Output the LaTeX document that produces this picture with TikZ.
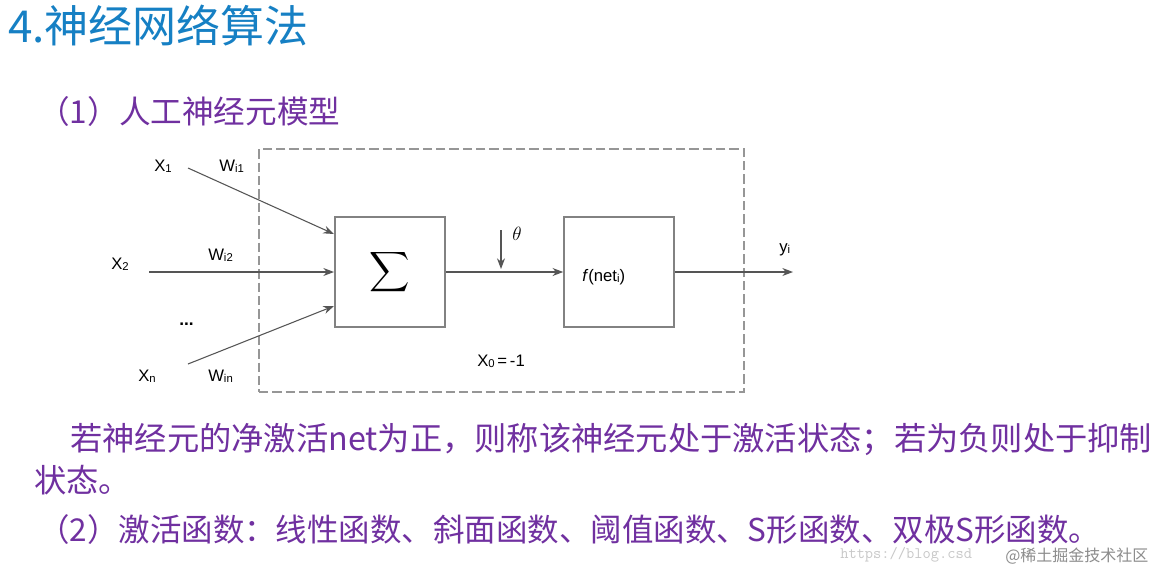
\documentclass[tikz,border=0pt]{standalone}
\usepackage{fontspec}
\setmainfont{Liberation Sans}
\newfontfamily\cjk{Noto Sans CJK SC}
\usetikzlibrary{arrows.meta}
\definecolor{titleblue}{RGB}{22,128,196}
\definecolor{txtpurple}{RGB}{112,48,160}
\definecolor{linegray}{RGB}{85,85,85}
\definecolor{boxgray}{RGB}{130,130,130}
\definecolor{dashgray}{RGB}{150,150,150}
\definecolor{wmgray}{RGB}{200,200,200}
\newcommand{\sbs}[1]{\raisebox{-1.2pt}{\fontsize{8.5}{9}\selectfont #1}}
\tikzset{
  lbl/.style={inner sep=0pt, font=\fontsize{12.5}{13}\selectfont, text=black},
  blk/.style={draw=boxgray, line width=1.2pt, minimum width=82.5pt, minimum height=82.5pt, inner sep=0pt, fill=white},
  conn/.style={draw=linegray, line width=0.8pt, -{Stealth[length=8pt,width=6pt]}},
  cjkline/.style={inner sep=0pt, anchor=base west, text=txtpurple},
}
\begin{document}
\begin{tikzpicture}[x=0.75pt,y=-0.75pt]
\useasboundingbox[fill=white] (0,0) rectangle (1171,568);
% title
\node[inner sep=0pt, anchor=base west, text=titleblue, font=\cjk\fontsize{33}{35}\selectfont] (title) at (8,42) {4.神经网络算法};
\node[cjkline, font=\cjk\fontsize{23.7}{26}\selectfont] (sub1) at (38,123) {（1）人工神经元模型};
% dashed frame
\node[draw=dashgray, line width=1.5pt, dash pattern=on 7pt off 3pt, minimum width=363.75pt, minimum height=182.25pt, inner sep=0pt] (frame) at (501.5,270.5) {};
% blocks
\node[blk] (sum) at (390,272) {\scalebox{2.1}{$\displaystyle\sum$}};
\node[blk] (f) at (619,272) {};
\node[lbl, anchor=base west] (flabel) at (582,281) {\textit{f}(net\sbs{i})};
% inputs
\coordinate (x1s) at (188,168);
\coordinate (x2s) at (149,272);
\coordinate (xns) at (188,364);
\coordinate (s1) at (334,234);
\coordinate (s2) at (334,272);
\coordinate (s3) at (334,306);
\draw[conn] (x1s) -- (s1);
\draw[conn] (x2s) -- (s2);
\draw[conn] (xns) -- (s3);
\node[lbl, anchor=base west] (X1) at (154,171) {X\sbs{1}};
\node[lbl, anchor=base west] (W1) at (219,171) {W\sbs{i1}};
\node[lbl, anchor=base west] (X2) at (111,269) {X\sbs{2}};
\node[lbl, anchor=base west] (W2) at (208,260) {W\sbs{i2}};
\node[lbl, anchor=base west] (dots) at (179,325) {\textbf{\fontsize{13}{13}\selectfont ...}};
\node[lbl, anchor=base west] (Xn) at (138,381) {X\sbs{n}};
\node[lbl, anchor=base west] (Wn) at (208,381) {W\sbs{in}};
% middle
\draw[conn] (sum.east) -- (f.west);
\coordinate (th1) at (501,230);
\coordinate (th2) at (501,269);
\draw[conn] (th1) -- (th2);
\node[lbl, anchor=base west] (theta) at (512,240) {\fontsize{15}{15}\selectfont$\theta$};
\node[lbl, anchor=base west] (x0) at (477,366) {X\sbs{0}\,=\,-1};
% output
\coordinate (yout) at (793,272);
\draw[conn] (f.east) -- (yout);
\node[lbl, anchor=base west] (yi) at (779,252) {y\sbs{i}};
% text
\node[cjkline, font=\cjk\fontsize{24.2}{26}\selectfont] (p1) at (70,450) {若神经元的净激活net为正，则称该神经元处于激活状态；若为负则处于抑制};
\node[cjkline, font=\cjk\fontsize{24.2}{26}\selectfont] (p2) at (34,492) {状态。};
\node[cjkline, font=\cjk\fontsize{23.6}{26}\selectfont] (p3) at (38,541) {（2）激活函数：线性函数、斜面函数、阈值函数、S形函数、双极S形函数。};
% watermark
\node[inner sep=0pt, anchor=base west, text=wmgray, font=\ttfamily\fontsize{12}{13}\selectfont] (wm1) at (840,558) {https://blog.csd};
\node[inner sep=0pt, anchor=base west, text=wmgray!70!black, font=\cjk\fontsize{12}{13}\selectfont] (wm2) at (1005,561) {@稀土掘金技术社区};
\end{tikzpicture}
\end{document}
